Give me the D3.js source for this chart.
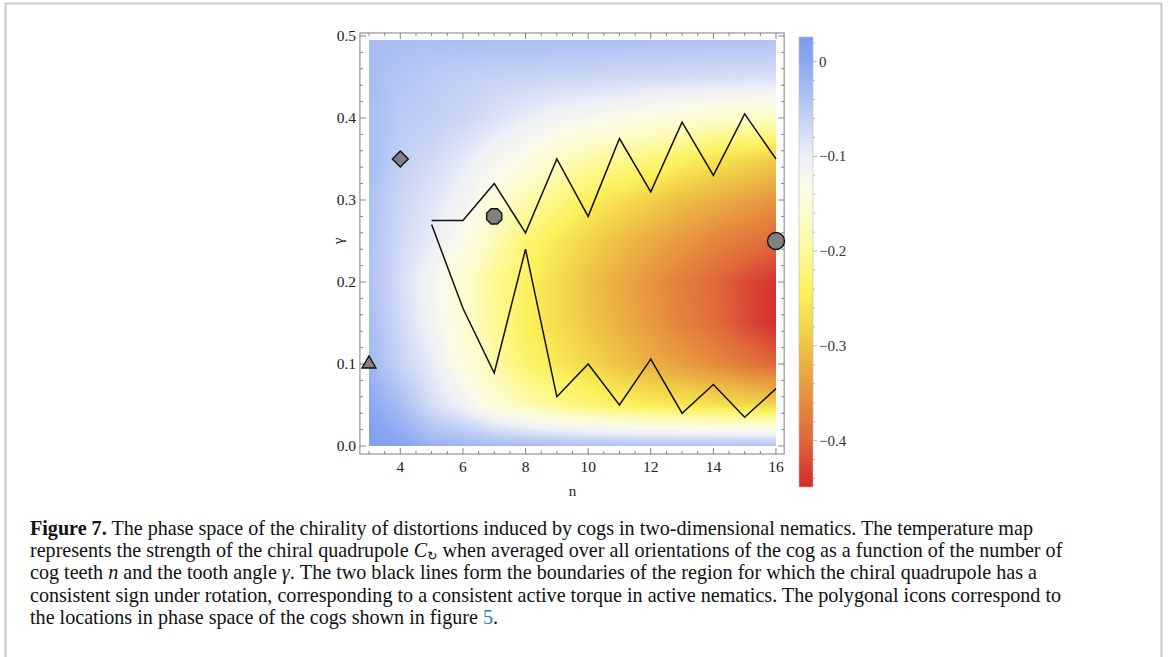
<!DOCTYPE html>
<html>
<head>
<meta charset="utf-8">
<script src="https://cdn.jsdelivr.net/npm/d3@7"></script>
<style>
  body { margin: 0; background: #fff; }
  svg { display: block; }
  text { font-family: "Liberation Serif", "Times New Roman", serif; }
</style>
</head>
<body>
<div id="chart"></div>
<script>
// grid of the map: number of teeth n (columns) and tooth angle gamma (rows)
const nValues = [3, 4, 5, 6, 7, 8, 9, 10, 11, 12, 13, 14, 15, 16];
const gammaValues = [0, 0.05, 0.1, 0.15, 0.2, 0.25, 0.3, 0.35, 0.4, 0.45, 0.5];

// chiral quadrupole, one array per gamma row (n = 3..16)
const g000 = [0.02, 0.005, -0.015, -0.02, -0.025, -0.028, -0.03, -0.032, -0.033, -0.034, -0.035, -0.035, -0.035, -0.035];
const g005 = [0.0, -0.03, -0.075, -0.105, -0.15, -0.18, -0.205, -0.225, -0.24, -0.25, -0.258, -0.265, -0.272, -0.28];
const g010 = [-0.02, -0.06, -0.095, -0.14, -0.19, -0.23, -0.255, -0.275, -0.3, -0.32, -0.34, -0.36, -0.38, -0.4];
const g015 = [-0.03, -0.07, -0.11, -0.155, -0.2, -0.245, -0.27, -0.295, -0.32, -0.345, -0.37, -0.39, -0.42, -0.445];
const g020 = [-0.035, -0.075, -0.115, -0.16, -0.205, -0.24, -0.27, -0.3, -0.325, -0.35, -0.375, -0.395, -0.42, -0.44];
const g025 = [-0.035, -0.07, -0.095, -0.13, -0.18, -0.225, -0.255, -0.28, -0.305, -0.325, -0.345, -0.365, -0.38, -0.395];
const g030 = [-0.035, -0.065, -0.085, -0.11, -0.145, -0.185, -0.215, -0.245, -0.265, -0.285, -0.305, -0.32, -0.335, -0.35];
const g035 = [-0.03, -0.055, -0.07, -0.09, -0.115, -0.135, -0.165, -0.19, -0.205, -0.22, -0.24, -0.26, -0.275, -0.29];
const g040 = [-0.03, -0.05, -0.055, -0.065, -0.08, -0.095, -0.11, -0.12, -0.13, -0.14, -0.15, -0.16, -0.165, -0.17];
const g045 = [-0.03, -0.04, -0.05, -0.055, -0.06, -0.062, -0.064, -0.066, -0.068, -0.07, -0.072, -0.074, -0.076, -0.078];
const g050 = [-0.03, -0.03, -0.03, -0.03, -0.03, -0.03, -0.03, -0.032, -0.032, -0.033, -0.033, -0.034, -0.034, -0.035];
const field = [g000, g005, g010, g015, g020, g025, g030, g035, g040, g045, g050];

// the two boundary lines
const upperN = [5, 6, 7, 8, 9, 10, 11, 12, 13, 14, 15, 16];
const upperG = [0.275, 0.275, 0.32, 0.26, 0.35, 0.28, 0.375, 0.31, 0.395, 0.33, 0.405, 0.35];
const lowerN = [5, 6, 7, 8, 9, 10, 11, 12, 13, 14, 15, 16];
const lowerG = [0.27, 0.168, 0.089, 0.24, 0.06, 0.1, 0.05, 0.106, 0.04, 0.075, 0.035, 0.07];

// cog icons
const cogN = [3, 4, 7, 16];
const cogG = [0.1, 0.35, 0.28, 0.25];
const cogShape = ['triangle', 'diamond', 'octagon', 'circle'];

// tick labels
const xTickLabels = [4, 6, 8, 10, 12, 14, 16];
const yTickLabels = [0.0, 0.1, 0.2, 0.3, 0.4, 0.5];
const barTickLabels = [0, -0.1, -0.2, -0.3, -0.4];

// colour map stops (value -> colour)
const stopValues = [0.026, 0, -0.05, -0.1, -0.13, -0.17, -0.21, -0.245, -0.28, -0.32, -0.36, -0.4, -0.449];
const stopColors = ['#7d9bef', '#8ba7f1', '#bccbf5', '#eef0f7', '#fafaea', '#fdfbc4', '#fcf88a',
                    '#fbf05a', '#f3d54a', '#ebb043', '#e58b3d', '#df653a', '#d4282c'];

const W = 1168, H = 657;
const svg = d3.select('#chart').append('svg').attr('width', W).attr('height', H);

// outer page border
svg.append('path')
  .attr('d', 'M5.5,' + H + 'V3.5H1161.5V' + H)
  .attr('fill', 'none').attr('stroke', '#c8c8c8').attr('stroke-width', 2);

const x = d3.scaleLinear().domain([3, 16]).range([369, 776]);
const y = d3.scaleLinear().domain([0, 0.5]).range([446, 36]);
const color = d3.scaleLinear().domain(stopValues).range(stopColors).clamp(true);
const frameN = [2.71, 16.26], frameG = [-0.0098, 0.5037];

// density map drawn pixel by pixel on a canvas
function sample(n, g) {
  const fi = Math.max(0, Math.min(nValues.length - 1, (n - nValues[0]) / (nValues[1] - nValues[0])));
  const fj = Math.max(0, Math.min(gammaValues.length - 1, g / (gammaValues[1] - gammaValues[0])));
  const i0 = Math.min(Math.floor(fi), nValues.length - 2), j0 = Math.min(Math.floor(fj), gammaValues.length - 2);
  const tx = fi - i0, ty = fj - j0;
  const a = field[j0][i0] * (1 - tx) + field[j0][i0 + 1] * tx;
  const b = field[j0 + 1][i0] * (1 - tx) + field[j0 + 1][i0 + 1] * tx;
  return a * (1 - ty) + b * ty;
}
const hx0 = Math.round(x(3)), hx1 = Math.round(x(16)), hy0 = Math.round(y(0.495)), hy1 = Math.round(y(0));
const cw = hx1 - hx0, ch = hy1 - hy0;
const canvas = document.createElement('canvas');
canvas.width = cw; canvas.height = ch;
const ctx = canvas.getContext('2d');
const img = ctx.createImageData(cw, ch);
for (let j = 0; j < ch; j++) {
  const g = y.invert(hy0 + j + 0.5);
  for (let i = 0; i < cw; i++) {
    const c = d3.rgb(color(sample(x.invert(hx0 + i + 0.5), g)));
    const k = (j * cw + i) * 4;
    img.data[k] = c.r; img.data[k + 1] = c.g; img.data[k + 2] = c.b; img.data[k + 3] = 255;
  }
}
ctx.putImageData(img, 0, 0);
svg.append('image').attr('x', hx0).attr('y', hy0).attr('width', cw).attr('height', ch)
  .attr('preserveAspectRatio', 'none').attr('href', canvas.toDataURL());

// frame with inward ticks on all four sides
const fx0 = x(frameN[0]), fx1 = x(frameN[1]), fy0 = y(frameG[1]), fy1 = y(frameG[0]);
const frame = svg.append('g').attr('stroke', '#808080').attr('stroke-width', 1).attr('fill', 'none');
frame.append('rect').attr('x', fx0).attr('y', fy0).attr('width', fx1 - fx0).attr('height', fy1 - fy0);
d3.range(3, 16.01, 0.5).forEach(v => {
  const major = Math.abs(v % 2) < 1e-6, len = major ? 6 : 3;
  frame.append('line').attr('x1', x(v)).attr('x2', x(v)).attr('y1', fy1).attr('y2', fy1 - len);
  frame.append('line').attr('x1', x(v)).attr('x2', x(v)).attr('y1', fy0).attr('y2', fy0 + len);
});
d3.range(0, 0.5001, 0.02).forEach(v => {
  const major = Math.abs(Math.round(v * 10) - v * 10) < 1e-6, len = major ? 6 : 3;
  frame.append('line').attr('x1', fx0).attr('x2', fx0 + len).attr('y1', y(v)).attr('y2', y(v));
  frame.append('line').attr('x1', fx1).attr('x2', fx1 - len).attr('y1', y(v)).attr('y2', y(v));
});

svg.append('g').selectAll('text').data(xTickLabels).enter().append('text')
  .attr('x', d => x(d)).attr('y', 472).attr('text-anchor', 'middle')
  .attr('font-size', 15.5).attr('fill', '#222').text(d => d);
svg.append('g').selectAll('text').data(yTickLabels).enter().append('text')
  .attr('x', 356).attr('y', d => y(d) + 5).attr('text-anchor', 'end')
  .attr('font-size', 15.5).attr('fill', '#222').text(d => d.toFixed(1));

svg.append('text').attr('x', (x(3) + x(16)) / 2).attr('y', 496).attr('text-anchor', 'middle')
  .attr('font-size', 15).attr('fill', '#222').text('n');
svg.append('text').attr('transform', 'translate(343,' + y(0.25) + ') rotate(-90)')
  .attr('text-anchor', 'middle').attr('font-size', 15).attr('fill', '#222').text('γ');

// boundary lines
const line = d3.line().x(d => x(d[0])).y(d => y(d[1]));
[[upperN, upperG], [lowerN, lowerG]].forEach(([ns, gs]) => {
  svg.append('path').datum(ns.map((n, i) => [n, gs[i]])).attr('d', line)
    .attr('fill', 'none').attr('stroke', '#111').attr('stroke-width', 1.5).attr('stroke-linejoin', 'miter');
});

// cog icons
function iconPath(shape) {
  if (shape === 'triangle') return 'M0,-8L7,4L-7,4Z';
  if (shape === 'diamond') return 'M0,-8L8,0L0,8L-8,0Z';
  if (shape === 'octagon') {
    const p = d3.range(8).map(k => { const a = (22.5 + 45 * k) * Math.PI / 180; return [8.2 * Math.cos(a), 8.2 * Math.sin(a)]; });
    return 'M' + p.join('L') + 'Z';
  }
  return d3.symbol(d3.symbolCircle, Math.PI * 8.5 * 8.5)();
}
svg.append('g').selectAll('path').data(cogN).enter().append('path')
  .attr('transform', (d, i) => 'translate(' + x(d) + ',' + y(cogG[i]) + ')')
  .attr('d', (d, i) => iconPath(cogShape[i]))
  .attr('fill', '#808080').attr('stroke', '#111').attr('stroke-width', 1.4);

// colour bar
const bar = d3.scaleLinear().domain([stopValues[stopValues.length - 1], stopValues[0]]).range([487, 37]);
const barX = 799, barW = 14;
svg.append('g').selectAll('rect').data(d3.range(37, 487)).enter().append('rect')
  .attr('x', barX).attr('y', d => d).attr('width', barW).attr('height', 1)
  .attr('fill', d => color(bar.invert(d + 0.5)));
svg.append('rect').attr('x', barX).attr('y', 37).attr('width', barW).attr('height', 450)
  .attr('fill', 'none').attr('stroke', '#bbb').attr('stroke-width', 0.6);
d3.range(-0.44, 0.021, 0.02).forEach(v => {
  const major = Math.abs(Math.round(v * 10) - v * 10) < 1e-6;
  svg.append('line').attr('x1', barX + barW).attr('x2', barX + barW + (major ? 4 : 2))
    .attr('y1', bar(v)).attr('y2', bar(v)).attr('stroke', '#aaa').attr('stroke-width', 0.8);
});
svg.append('g').selectAll('text').data(barTickLabels).enter().append('text')
  .attr('x', 819).attr('y', d => bar(d) + 5).attr('font-size', 15).attr('fill', '#333')
  .text(d => d === 0 ? '0' : '\u2212' + Math.abs(d).toFixed(1));

// caption
const capLines = [
  [['b', 'Figure 7.'], ['', ' The phase space of the chirality of distortions induced by cogs in two-dimensional nematics. The temperature map']],
  [['', 'represents the strength of the chiral quadrupole '], ['i', 'C'], ['sub', '\u21BB'], ['up', ' when averaged over all orientations of the cog as a function of the number of']],
  [['', 'cog teeth '], ['i', 'n'], ['', ' and the tooth angle '], ['i', 'γ'], ['', '. The two black lines form the boundaries of the region for which the chiral quadrupole has a']],
  [['', 'consistent sign under rotation, corresponding to a consistent active torque in active nematics. The polygonal icons correspond to']],
  [['', 'the locations in phase space of the cogs shown in figure '], ['blue', '5'], ['', '.']]
];
const capBase = [534.5, 557, 579.3, 601.6, 624];
const cap = svg.append('g').attr('fill', '#111');
function drawCaption(fs) {
  cap.selectAll('*').remove();
  capLines.forEach((parts, li) => {
    const t = cap.append('text').attr('x', 30).attr('y', capBase[li]).attr('font-size', fs);
    parts.forEach(([kind, s]) => {
      const ts = t.append('tspan').text(s);
      if (kind === 'b') ts.attr('font-weight', 'bold');
      if (kind === 'i') ts.attr('font-style', 'italic');
      if (kind === 'blue') ts.attr('fill', '#2b7bb9');
      if (kind === 'sub') ts.attr('font-size', fs * 0.62).attr('dy', 3).attr('font-family', 'DejaVu Sans');
      if (kind === 'up') ts.attr('dy', -3);
    });
  });
}
drawCaption(18);
const w1 = cap.select('text').node().getComputedTextLength();
drawCaption(18 * 1004 / w1);
</script>
</body>
</html>
